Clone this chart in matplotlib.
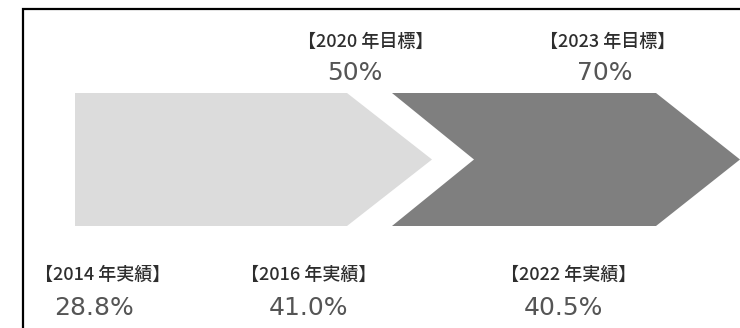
import matplotlib
matplotlib.use("Agg")
import matplotlib.pyplot as plt
from matplotlib.patches import Polygon

# ---------- data ----------
TARGET_LABELS = ["【2020 年目標】", "【2023 年目標】"]
TARGET_VALUES = ["50%", "70%"]
ACTUAL_LABELS = ["【2014 年実績】", "【2016 年実績】", "【2022 年実績】"]
ACTUAL_VALUES = ["28.8%", "41.0%", "40.5%"]

# ---------- layout (pixel coordinates, y grows downward) ----------
W, H = 740, 328
TOP, BOT = 93, 226
MID = (TOP + BOT) / 2
LIGHT, DARK = "#dcdcdc", "#7f7f7f"
TARGET_X = [(366, 355), (608, 605)]
ACTUAL_X = [(103, 94), (309, 308), (569, 563)]
JP = ["Noto Sans CJK JP", "DejaVu Sans"]

fig = plt.figure(figsize=(W / 100, H / 100), dpi=100)
ax = fig.add_axes([0, 0, 1, 1])
ax.set_xlim(0, W); ax.set_ylim(H, 0); ax.axis("off")

# frame (left and top edges)
ax.plot([23, 23, W], [H, 9, 9], color="black", lw=1.6, solid_joinstyle="miter")

# first arrow: flat tail, pointed head
x0, x1, tip = 75, 347, 432
ax.add_patch(Polygon([(x0, TOP), (x1, TOP), (tip, MID), (x1, BOT), (x0, BOT)],
                     closed=True, fc=LIGHT, ec="none"))
# second arrow: notched tail, pointed head
d0, notch, d1, dtip = 392, 474, 656, W
ax.add_patch(Polygon([(d0, TOP), (d1, TOP), (dtip, MID), (d1, BOT), (d0, BOT), (notch, MID)],
                     closed=True, fc=DARK, ec="none"))

for (lx, vx), lab, val in zip(TARGET_X, TARGET_LABELS, TARGET_VALUES):
    ax.text(lx, 42, lab, ha="center", va="center", fontsize=13, color="#2e2e2e",
            family=JP, weight="medium")
    ax.text(vx, 73, val, ha="center", va="center", fontsize=18, color="#555555")

for (lx, vx), lab, val in zip(ACTUAL_X, ACTUAL_LABELS, ACTUAL_VALUES):
    ax.text(lx, 275, lab, ha="center", va="center", fontsize=13, color="#2e2e2e",
            family=JP, weight="medium")
    ax.text(vx, 308, val, ha="center", va="center", fontsize=18, color="#555555")

fig.savefig("out.png", dpi=100)
